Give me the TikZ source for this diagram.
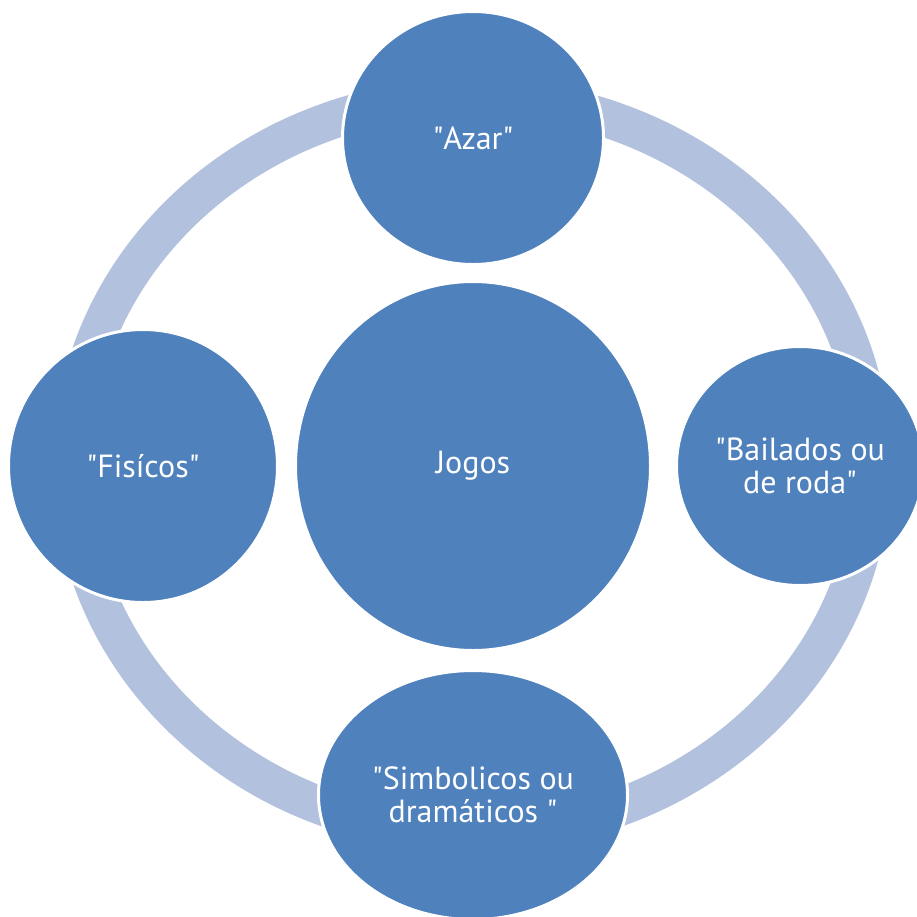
\documentclass[tikz,border=0pt]{standalone}
\usepackage{fontspec}
\setmainfont{PT Sans}
\usepackage{tikz}
\usetikzlibrary{shapes}
\definecolor{nodeblue}{HTML}{4F81BD}
\definecolor{ringblue}{HTML}{B2C1DD}
\newcommand{\qt}{\textquotedbl}

\begin{document}
\begin{tikzpicture}[x=1pt, y=-1pt, every node/.style={ellipse, fill=nodeblue, draw=white, line width=3pt, text=white, inner sep=0pt, align=center, font=\fontsize{32}{33}\selectfont}]
							\useasboundingbox (0,0) rectangle (917,916);
							
							%% ring behind the circles
							\pgfmathsetmacro{\ringx}{400}
							\pgfmathsetmacro{\ringy}{368}
							\coordinate (hub) at (472,465);
							\draw[ringblue, line width=38pt] (hub) ellipse [x radius=\ringx, y radius=\ringy];
							
							\node[minimum width=355pt, minimum height=369pt] (jogos) at (473,466) {Jogos};
							\node[minimum width=261pt, minimum height=253pt] (azar) at (473,138) {\qt Azar\qt};
							\node[minimum width=247pt, minimum height=239pt] (bailados) at (800,466) {\qt Bailados ou\\de roda\qt};
							\node[minimum width=309pt, minimum height=249pt] (simbolicos) at (473,795) {\qt Simbolicos ou\\dramáticos \qt};
							\node[minimum width=269pt, minimum height=273pt] (fisicos) at (143,466) {\qt Fisícos\qt};
							\end{tikzpicture}
\end{document}
